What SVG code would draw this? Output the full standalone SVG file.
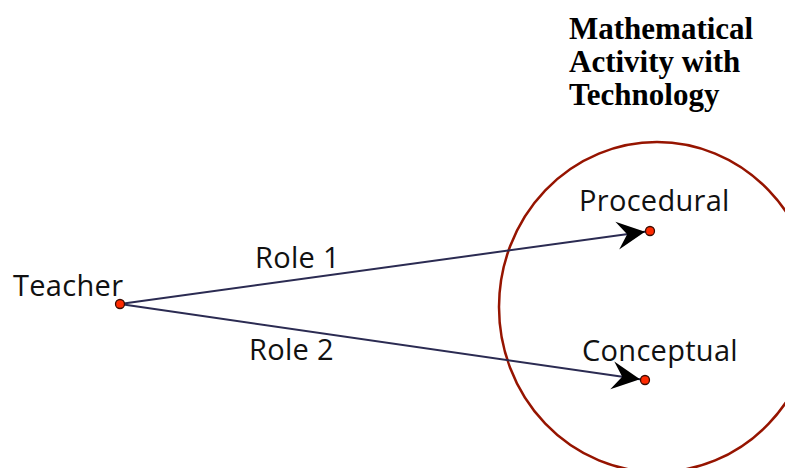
<svg xmlns="http://www.w3.org/2000/svg" width="785" height="468" viewBox="0 0 785 468">
  <style>
    .lbl { font-family: "Open Sans", "DejaVu Sans", sans-serif; font-size: 29px; letter-spacing: 0.3px; fill: #111; }
    .title { font-family: "Liberation Serif", serif; font-size: 31px; font-weight: bold; fill: #000; }
    .edge { stroke: #2b2b52; stroke-width: 2; fill: none; }
    .pt { fill: #ff2a00; stroke: #3a0a00; stroke-width: 1.3; }
    .head { fill: #000; }
  </style>
  <defs>
    <!-- notched arrowhead pointing along +x, tip at origin -->
    <path id="arrow" class="head" d="M0,0 L-28,-14 L-18,0 L-28,14 Z"/>
  </defs>
  <rect width="785" height="468" fill="#fff"/>

  <g id="activity">
    <ellipse cx="657" cy="307" rx="158" ry="165" fill="none" stroke="#961400" stroke-width="2.5"/>
    <text class="title" x="569" y="39">Mathematical</text>
    <text class="title" x="569" y="72">Activity with</text>
    <text class="title" x="569" y="105">Technology</text>
  </g>

  <g id="connectors">
    <line class="edge" x1="120" y1="304" x2="650" y2="231"/>
    <use href="#arrow" transform="translate(645,231.7) rotate(-7.84)"/>
    <text class="lbl" x="255" y="268">Role 1</text>
    <line class="edge" x1="120" y1="304" x2="645" y2="380"/>
    <use href="#arrow" transform="translate(640,379.3) rotate(8.24)"/>
    <text class="lbl" x="249" y="360">Role 2</text>
  </g>

  <g id="teacher">
    <text class="lbl" x="13" y="296">Teacher</text>
    <circle class="pt" cx="120" cy="304" r="4.5"/>
  </g>

  <g id="procedural">
    <text class="lbl" x="579" y="211">Procedural</text>
    <circle class="pt" cx="650" cy="231" r="4.5"/>
  </g>

  <g id="conceptual">
    <text class="lbl" x="582" y="361">Conceptual</text>
    <circle class="pt" cx="645" cy="380" r="4.5"/>
  </g>
</svg>
